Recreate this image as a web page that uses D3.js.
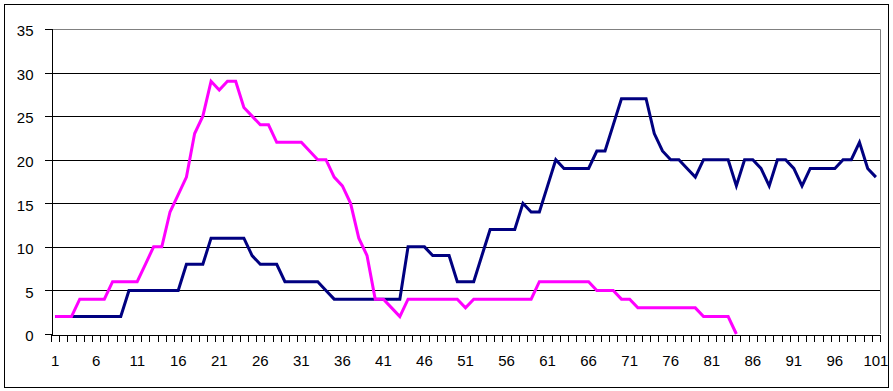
<!DOCTYPE html>
<html>
<head>
<meta charset="utf-8">
<script src="https://cdn.jsdelivr.net/npm/d3@7"></script>
<style>
  body { margin: 0; background: #fff; }
  svg { display: block; font-family: "Liberation Sans", Arial, sans-serif; }
</style>
</head>
<body>
<svg id="chart" width="893" height="391"></svg>
<script>
const width = 893;
const height = 391;
const margin = { top: 29, right: 13, bottom: 57, left: 51 };

// categories 1..101
const categories = d3.range(1, 102);
const xLabels = d3.range(1, 102, 5);
const yTicks = [0, 5, 10, 15, 20, 25, 30, 35];

// navy series (101 points)
const navySeries = [
  2, 2, 2, 2, 2, 2, 2, 2, 2, 5,
  5, 5, 5, 5, 5, 5, 8, 8, 8, 11,
  11, 11, 11, 11, 9, 8, 8, 8, 6, 6,
  6, 6, 6, 5, 4, 4, 4, 4, 4, 4,
  4, 4, 4, 10, 10, 10, 9, 9, 9, 6,
  6, 6, 9, 12, 12, 12, 12, 15, 14, 14,
  17, 20, 19, 19, 19, 19, 21, 21, 24, 27,
  27, 27, 27, 23, 21, 20, 20, 19, 18, 20,
  20, 20, 20, 17, 20, 20, 19, 17, 20, 20,
  19, 17, 19, 19, 19, 19, 20, 20, 22, 19,
  18
];

// magenta series (ends at point 84)
const magentaSeries = [
  2, 2, 2, 4, 4, 4, 4, 6, 6, 6,
  6, 8, 10, 10, 14, 16, 18, 23, 25, 29,
  28, 29, 29, 26, 25, 24, 24, 22, 22, 22,
  22, 21, 20, 20, 18, 17, 15, 11, 9, 4,
  4, 3, 2, 4, 4, 4, 4, 4, 4, 4,
  3, 4, 4, 4, 4, 4, 4, 4, 4, 6,
  6, 6, 6, 6, 6, 6, 5, 5, 5, 4,
  4, 3, 3, 3, 3, 3, 3, 3, 3, 2,
  2, 2, 2, 0
];

const svg = d3.select("#chart");

// outer chart border
svg.append("rect")
    .attr("x", 4.5)
    .attr("y", 4.5)
    .attr("width", 884)
    .attr("height", 383)
    .attr("fill", "#fff")
    .attr("stroke", "#000")
    .attr("stroke-width", 1);

const x = d3.scaleBand()
    .domain(categories)
    .range([margin.left, width - margin.right])
    .padding(0);

const xEdge = d3.scaleLinear()
    .domain([0, categories.length])
    .range([margin.left, width - margin.right]);

const y = d3.scaleLinear()
    .domain([0, 35])
    .range([height - margin.bottom, margin.top]);

const cx = d => x(d) + x.bandwidth() / 2;

// gridlines
svg.append("g")
    .selectAll("line")
    .data(yTicks.filter(t => t > 0 && t < 35))
    .enter()
    .append("line")
    .attr("x1", margin.left)
    .attr("x2", width - margin.right)
    .attr("y1", d => Math.round(y(d)) + 0.5)
    .attr("y2", d => Math.round(y(d)) + 0.5)
    .attr("stroke", "#000")
    .attr("stroke-width", 1);

// plot area border (top + right, grey)
svg.append("path")
    .attr("d", `M${margin.left},${Math.round(y(35)) + 0.5}H${width - margin.right + 0.5}V${Math.round(y(0))}`)
    .attr("fill", "none")
    .attr("stroke", "#808080")
    .attr("stroke-width", 1);

// y axis
const yAxis = svg.append("g")
    .attr("transform", `translate(${margin.left + 0.5},0)`)
    .call(d3.axisLeft(y).tickValues(yTicks).tickSize(7).tickPadding(11));

yAxis.selectAll("path, line").attr("stroke", "#000").attr("shape-rendering", "crispEdges");
yAxis.selectAll("text")
    .attr("font-size", 15)
    .attr("fill", "#000")
    .attr("font-family", "Liberation Sans, Arial, sans-serif")
    .attr("dy", "0.45em");

// x axis ticks on category edges
const xTickAxis = svg.append("g")
    .attr("transform", `translate(0,${Math.round(y(0)) + 0.5})`)
    .call(d3.axisBottom(xEdge).tickValues(d3.range(0, categories.length + 1)).tickSize(7).tickFormat(""));

xTickAxis.selectAll("path, line").attr("stroke", "#000").attr("shape-rendering", "crispEdges");

// x labels on category centers
const xLabelAxis = svg.append("g")
    .attr("transform", `translate(0,${Math.round(y(0)) + 0.5})`)
    .call(d3.axisBottom(x).tickValues(xLabels).tickSize(0).tickPadding(21));

xLabelAxis.select(".domain").remove();
xLabelAxis.selectAll("text")
    .attr("font-size", 15)
    .attr("fill", "#000")
    .attr("font-family", "Liberation Sans, Arial, sans-serif");

const line = d3.line()
    .x((d, i) => cx(categories[i]))
    .y(d => y(d));

// navy first, magenta on top
svg.append("path")
    .datum(navySeries)
    .attr("fill", "none")
    .attr("stroke", "#000080")
    .attr("stroke-width", 3)
    .attr("stroke-linejoin", "miter")
    .attr("d", line);

svg.append("path")
    .datum(magentaSeries)
    .attr("fill", "none")
    .attr("stroke", "#ff00ff")
    .attr("stroke-width", 3)
    .attr("stroke-linejoin", "miter")
    .attr("d", line);
</script>
</body>
</html>
